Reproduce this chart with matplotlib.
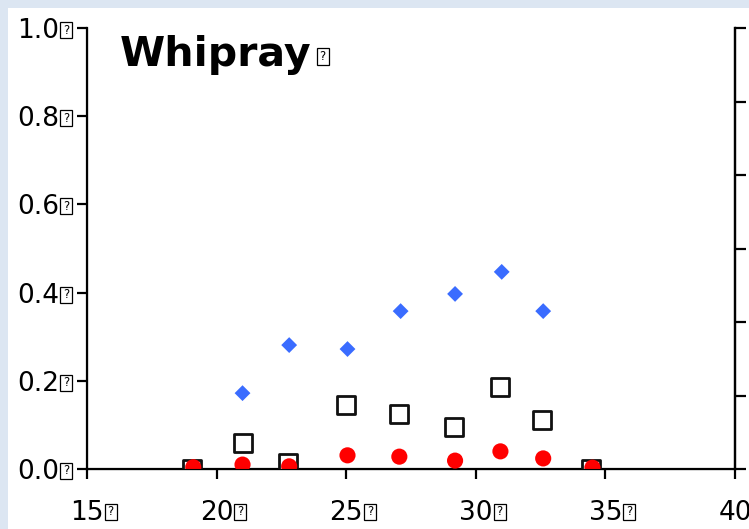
import matplotlib.pyplot as plt
from matplotlib.patches import Rectangle

# data
blue_x = [21.0, 22.8, 25.05, 27.1, 29.2, 31.0, 32.6]
blue_y = [0.172, 0.281, 0.272, 0.358, 0.397, 0.447, 0.358]

sq_x = [19.05, 21.0, 22.75, 25.0, 27.05, 29.15, 30.95, 32.55, 34.45]
sq_y = [0.0, 0.059, 0.014, 0.145, 0.125, 0.095, 0.186, 0.111, 0.0]

red_x = [19.1, 21.0, 22.8, 25.05, 27.05, 29.2, 30.95, 32.6, 34.5]
red_y = [0.004, 0.01, 0.006, 0.031, 0.028, 0.019, 0.04, 0.024, 0.003]

x_ticks = [15, 20, 25, 30, 35, 40]
y_ticks = [0.0, 0.2, 0.4, 0.6, 0.8, 1.0]

W, H = 749, 529
fig = plt.figure(figsize=(W / 100, H / 100), dpi=100, facecolor='#dce6f2')
fig.patches.append(Rectangle((8 / W, 0), 1, 1 - 8 / H, transform=fig.transFigure,
                             facecolor='white', edgecolor='none', zorder=-10))

ax = fig.add_axes([87 / W, 1 - 469 / H, (735 - 87) / W, (469 - 28) / H])
ax.set_facecolor('none')
ax.spines['top'].set_visible(False)
ax.spines['bottom'].set_position(('data', 0))

ax.scatter(sq_x, sq_y, marker='s', s=150, facecolor='white', edgecolor='#111111',
           linewidth=2, zorder=3)
ax.scatter(red_x, red_y, marker='o', s=135, color='#ff0000', edgecolor='none', zorder=4)
ax.scatter(blue_x, blue_y, marker='D', s=65, color='#3a6cff', edgecolor='none', zorder=4)

ax.set_xlim(15, 40)
ax.set_ylim(0, 1.0)
ax.set_xticks(x_ticks)
ax.set_yticks(y_ticks)
ax.set_xticklabels([f'{v}' for v in x_ticks])
ax.set_yticklabels([f'{v:.1f}' for v in y_ticks])

for s in ax.spines.values():
    s.set_linewidth(1.6)
ax.tick_params(direction='out', length=7, width=1.6, labelsize=19)
ax.tick_params(axis='x', pad=15)
ax.tick_params(axis='y', pad=13)

ax2 = ax.twinx()
ax2.set_ylim(0, 6)
ax2.set_yticks(range(7))
ax2.set_yticklabels([])
ax2.spines['top'].set_visible(False)
ax2.spines['right'].set_linewidth(1.6)
ax2.tick_params(direction='out', length=8, width=1.6)

title = ax.text((120 - 87) / 648, (469 - 66) / 441, 'Whipray', transform=ax.transAxes,
                fontsize=29.5, fontweight='bold', va='baseline', ha='left')

# the source font had no glyph for the last character of each label:
# draw that "?" box as a shape right after the text
fig.canvas.draw()
rend = fig.canvas.get_renderer()


def add_box(txt, gap=1, w=12, h=16, descent=6):
    bb = txt.get_window_extent(rend)
    x0 = bb.x1 + gap
    y0 = bb.y0 + descent
    fig.patches.append(Rectangle((x0 / W, y0 / H), w / W, h / H, transform=fig.transFigure,
                                 facecolor='white', edgecolor='black', linewidth=0.9,
                                 zorder=5))
    fig.text((x0 + w / 2) / W, (y0 + h / 2) / H, '?', fontsize=8.5, ha='center',
             va='center', zorder=6)


for lab in ax.get_xticklabels() + ax.get_yticklabels():
    add_box(lab)
add_box(title, gap=5, h=17, descent=10)

fig.savefig('out.png', dpi=100, facecolor=fig.get_facecolor())
